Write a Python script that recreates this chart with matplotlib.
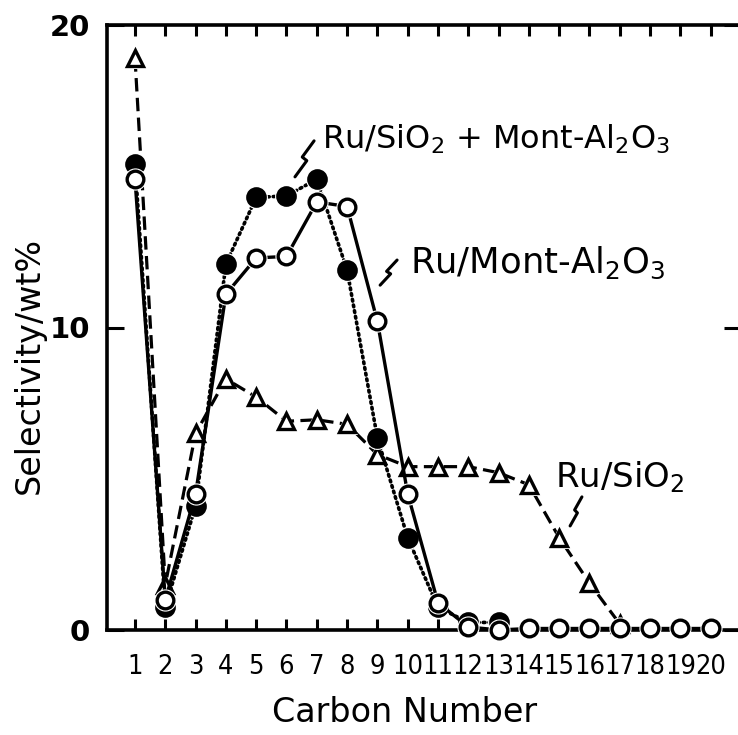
import matplotlib

matplotlib.use("Agg")
import matplotlib.pyplot as plt
from matplotlib import font_manager
from matplotlib.font_manager import FontProperties
from matplotlib.textpath import TextPath

# carbon numbers and selectivities (wt%)
carbon = list(range(1, 21))
ru_sio2 = [18.9, 1.5, 6.5, 8.3, 7.7, 6.9, 6.95, 6.8, 5.8, 5.4, 5.4, 5.4, 5.2,
           4.8, 3.05, 1.55, 0.2]
ru_sio2_mont = [15.4, 0.75, 4.1, 12.1, 14.3, 14.35, 14.9, 11.9, 6.35, 3.05,
                0.75, 0.25, 0.25]
ru_mont = [14.9, 1.0, 4.5, 11.1, 12.3, 12.35, 14.15, 14.0, 10.2, 4.5, 0.9,
           0.1, 0.0, 0.05, 0.05, 0.05, 0.05, 0.05, 0.05, 0.05]
y_ticks = [0, 10, 20]


def narrow_font():
    # look for a condensed/narrow sans regular face for the crowded x labels
    found = {}
    for f in font_manager.fontManager.ttflist:
        name = f.name.lower()
        stretch = str(f.stretch).lower()
        if "serif" in name or "mono" in name:
            continue
        if not ("narrow" in name or "condensed" in name or "condensed" in stretch):
            continue
        if f.style != "normal" or f.weight not in (400, "normal", "regular", "book"):
            continue
        found.setdefault(name, f)
    for key in ("liberation sans narrow", "dejavu sans", "roboto condensed",
                "noto sans", "open sans"):
        if key in found:
            return FontProperties(fname=found[key].fname)
    if found:
        return FontProperties(fname=next(iter(found.values())).fname)
    return FontProperties(family="DejaVu Sans")


def fit_size(prop, text, max_w, max_h):
    # largest size (pt) whose text fits max_w x max_h pixels at 100 dpi
    ext = TextPath((0, 0), text, size=100, prop=prop).get_extents()
    px = 100 / 72
    return min(max_w / (ext.width / 100 * px), max_h / (ext.height / 100 * px))


def leader(ax, x0, y0, x1, y1):
    # small lightning-bolt shaped pointer from a label to its curve
    dx, dy = x1 - x0, y1 - y0
    xs = [x0, x0 + 0.62 * dx, x0 + 0.38 * dx, x1]
    ys = [y0, y0 + 0.45 * dy, y0 + 0.55 * dy, y1]
    ax.plot(xs, ys, color="black", lw=2.2, solid_capstyle="round",
            solid_joinstyle="round", zorder=7)


def series(ax, xs, ys, line_kw, marker, ms, face, z):
    ax.plot(xs, ys, color="black", zorder=z, clip_on=False, **line_kw)
    ax.plot(xs, ys, ls="none", marker=marker, ms=ms + 4, mfc="white",
            mec="white", mew=0, zorder=z + 0.5, clip_on=False)
    ax.plot(xs, ys, ls="none", marker=marker, ms=ms, mfc=face, mec="black",
            mew=2.4, zorder=z + 0.6, clip_on=False)


fig = plt.figure(figsize=(7.38, 7.35), dpi=100)
ax = fig.add_axes([107 / 738, 105 / 735, 634 / 738, 605 / 735])

series(ax, carbon[:len(ru_sio2)], ru_sio2, dict(lw=2.3, dashes=(4.2, 2.0)),
       "^", 11.5, "white", 3)
series(ax, carbon[:len(ru_sio2_mont)], ru_sio2_mont,
       dict(lw=2.6, linestyle=(0, (0.5, 1.1)), dash_capstyle="round"),
       "o", 12.5, "black", 4)
series(ax, carbon, ru_mont, dict(lw=2.4), "o", 12, "white", 5)

ax.set_xlim(0.076, 21.0)
ax.set_ylim(0, 20)

xprop = narrow_font()
xprop.set_size(min(24, fit_size(xprop, "20", 27.5, 26)))
ax.set_xticks(carbon)
ax.set_xticklabels([str(c) for c in carbon], fontproperties=xprop)
ax.set_yticks(y_ticks)
ax.set_yticklabels([str(v) for v in y_ticks], fontsize=21, fontweight="bold")

ax.tick_params(axis="x", direction="in", top=True, bottom=True, length=8,
               width=2.2, pad=17)
ax.tick_params(axis="y", direction="in", left=True, right=True, length=12,
               width=2.2, pad=12)
for spine in ax.spines.values():
    spine.set_linewidth(2.6)
    spine.set_zorder(2.5)

fig.text(29 / 738, 1 - 365 / 735, "Selectivity/wt%", rotation=90,
         ha="center", va="center", fontsize=24)
fig.text(405 / 738, 1 - 712 / 735, "Carbon Number", ha="center",
         va="center", fontsize=24)

ax.text(7.17, 15.9, "Ru/SiO$_2$ + Mont-Al$_2$O$_3$", fontsize=23,
        ha="left", va="baseline")
ax.text(10.08, 11.8, "Ru/Mont-Al$_2$O$_3$", fontsize=25.5, ha="left",
        va="baseline")
ax.text(14.86, 4.73, "Ru/SiO$_2$", fontsize=24.5, ha="left", va="baseline")

leader(ax, 6.28, 14.98, 6.91, 16.17)
leader(ax, 9.09, 11.40, 9.65, 12.23)
leader(ax, 15.36, 3.44, 15.75, 4.40)

fig.savefig("out.png", dpi=100)
